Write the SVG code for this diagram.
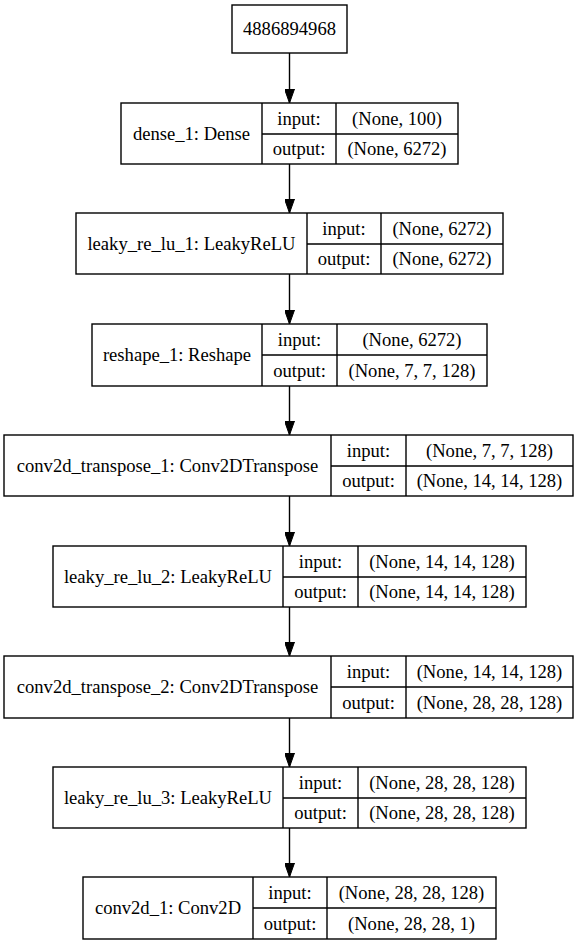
<svg xmlns="http://www.w3.org/2000/svg" width="579" height="945" viewBox="0 0 579 945">
<style>
  .box { fill: #ffffff; stroke: #000000; stroke-width: 1.4; }
  .ln { fill: none; stroke: #000000; stroke-width: 1.4; }
  text { font-family: 'Liberation Serif', 'DejaVu Serif', serif; font-size: 18.6px; fill: #000000; text-anchor: middle; }
  .edge { fill: none; stroke: #000000; stroke-width: 1.4; }
</style>
<defs>
  <marker id="arrow" markerUnits="userSpaceOnUse" markerWidth="14" markerHeight="10" refX="14" refY="5" orient="auto">
    <path d="M0,0 L14,5 L0,10 z" fill="#000000" stroke="#000000" stroke-width="1"/>
  </marker>
</defs>
<rect width="579" height="945" fill="#ffffff"/>

<g id="connectors">
  <line class="edge" x1="289.5" y1="53" x2="289.5" y2="103" marker-end="url(#arrow)"/>
  <line class="edge" x1="289.5" y1="164" x2="289.5" y2="213" marker-end="url(#arrow)"/>
  <line class="edge" x1="289.5" y1="274" x2="289.5" y2="324" marker-end="url(#arrow)"/>
  <line class="edge" x1="289.5" y1="386" x2="289.5" y2="435" marker-end="url(#arrow)"/>
  <line class="edge" x1="289.5" y1="496" x2="289.5" y2="546" marker-end="url(#arrow)"/>
  <line class="edge" x1="289.5" y1="607" x2="289.5" y2="656" marker-end="url(#arrow)"/>
  <line class="edge" x1="289.5" y1="718" x2="289.5" y2="767" marker-end="url(#arrow)"/>
  <line class="edge" x1="289.5" y1="828" x2="289.5" y2="877" marker-end="url(#arrow)"/>
</g>

<g id="input_node">
  <rect class="box" x="232" y="5" width="115" height="48"/>
  <text x="289.5" y="35" font-family="Liberation Serif, serif">4886894968</text>
</g>

<g id="dense_1" font-family="Liberation Serif, serif">
  <rect class="box" x="121" y="103" width="337" height="61"/>
  <path class="ln" d="M262,103 V164 M336,103 V164 M262,134 H458"/>
  <text x="191.5" y="139.5">dense_1: Dense</text>
  <text x="299" y="124.5">input:</text>
  <text x="299" y="155">output:</text>
  <text x="397" y="124.5">(None, 100)</text>
  <text x="397" y="155">(None, 6272)</text>
</g>

<g id="leaky_re_lu_1">
  <rect class="box" x="76" y="213" width="427" height="61"/>
  <path class="ln" d="M307,213 V274 M381,213 V274 M307,244 H503"/>
  <text x="191.5" y="249.5">leaky_re_lu_1: LeakyReLU</text>
  <text x="344" y="234.5">input:</text>
  <text x="344" y="265">output:</text>
  <text x="442" y="234.5">(None, 6272)</text>
  <text x="442" y="265">(None, 6272)</text>
</g>

<g id="reshape_1">
  <rect class="box" x="92" y="324" width="395" height="62"/>
  <path class="ln" d="M262,324 V386 M337,324 V386 M262,355 H487"/>
  <text x="177" y="361">reshape_1: Reshape</text>
  <text x="299.5" y="345.5">input:</text>
  <text x="299.5" y="376.5">output:</text>
  <text x="412" y="345.5">(None, 6272)</text>
  <text x="412" y="376.5">(None, 7, 7, 128)</text>
</g>

<g id="conv2d_transpose_1">
  <rect class="box" x="4" y="435" width="569" height="61"/>
  <path class="ln" d="M331,435 V496 M406,435 V496 M331,466 H573"/>
  <text x="167.5" y="471.5">conv2d_transpose_1: Conv2DTranspose</text>
  <text x="368.5" y="456.5">input:</text>
  <text x="368.5" y="487">output:</text>
  <text x="489.5" y="456.5">(None, 7, 7, 128)</text>
  <text x="489.5" y="487">(None, 14, 14, 128)</text>
</g>

<g id="leaky_re_lu_2">
  <rect class="box" x="53" y="546" width="473" height="61"/>
  <path class="ln" d="M283,546 V607 M358,546 V607 M283,577 H526"/>
  <text x="168" y="582.5">leaky_re_lu_2: LeakyReLU</text>
  <text x="320.5" y="567.5">input:</text>
  <text x="320.5" y="598">output:</text>
  <text x="442" y="567.5">(None, 14, 14, 128)</text>
  <text x="442" y="598">(None, 14, 14, 128)</text>
</g>

<g id="conv2d_transpose_2">
  <rect class="box" x="4" y="656" width="569" height="62"/>
  <path class="ln" d="M331,656 V718 M406,656 V718 M331,687 H573"/>
  <text x="167.5" y="693">conv2d_transpose_2: Conv2DTranspose</text>
  <text x="368.5" y="677.5">input:</text>
  <text x="368.5" y="708.5">output:</text>
  <text x="489.5" y="677.5">(None, 14, 14, 128)</text>
  <text x="489.5" y="708.5">(None, 28, 28, 128)</text>
</g>

<g id="leaky_re_lu_3">
  <rect class="box" x="53" y="767" width="473" height="61"/>
  <path class="ln" d="M283,767 V828 M358,767 V828 M283,798 H526"/>
  <text x="168" y="803.5">leaky_re_lu_3: LeakyReLU</text>
  <text x="320.5" y="788.5">input:</text>
  <text x="320.5" y="819">output:</text>
  <text x="442" y="788.5">(None, 28, 28, 128)</text>
  <text x="442" y="819">(None, 28, 28, 128)</text>
</g>

<g id="conv2d_1">
  <rect class="box" x="83" y="877" width="413" height="62"/>
  <path class="ln" d="M253,877 V939 M327,877 V939 M253,908 H496"/>
  <text x="168" y="914">conv2d_1: Conv2D</text>
  <text x="290" y="898.5">input:</text>
  <text x="290" y="929.5">output:</text>
  <text x="411.5" y="898.5">(None, 28, 28, 128)</text>
  <text x="411.5" y="929.5">(None, 28, 28, 1)</text>
</g>
</svg>
